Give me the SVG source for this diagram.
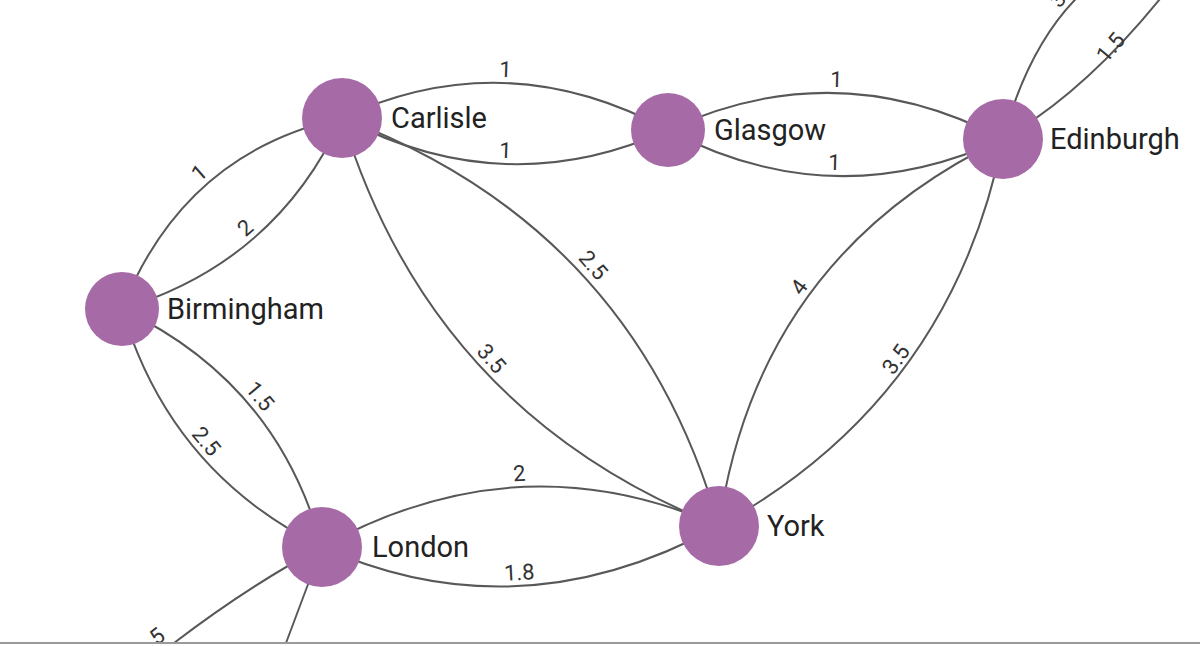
<svg xmlns="http://www.w3.org/2000/svg" width="1200" height="646" viewBox="0 0 1200 646">
<style>
.edge{fill:none;stroke:#585858;stroke-width:2}
.elabel{font-family:Roboto,"Liberation Sans",sans-serif;font-size:22px;fill:#333;text-anchor:middle}
.node{fill:#a66ba6}
.nlabel{font-family:Roboto,"Liberation Sans",sans-serif;font-size:29px;fill:#222}
</style>
<rect width="1200" height="646" fill="#fff"/>
<g id="connectors">
<path class="edge" d="M342,118 Q505,42 668,130"/>
<path class="edge" d="M342,118 Q505,204 668,130"/>
<path class="edge" d="M668,130 Q836.5,51.5 1003,139"/>
<path class="edge" d="M668,130 Q832.5,217.5 1003,139"/>
<path class="edge" d="M122,309 Q184,152.5 342,118"/>
<path class="edge" d="M122,309 Q276,262.5 342,118"/>
<path class="edge" d="M122,309 Q170,472 322,547"/>
<path class="edge" d="M122,309 Q277,382 322,547"/>
<path class="edge" d="M342,118 Q633.5,227 719,526"/>
<path class="edge" d="M342,118 Q432,413 719,526"/>
<path class="edge" d="M322,547 Q519.5,437.5 719,526"/>
<path class="edge" d="M322,547 Q519.5,635.5 719,526"/>
<path class="edge" d="M719,526 Q758,256 1003,139"/>
<path class="edge" d="M719,526 Q951,398.5 1003,139"/>
<path class="edge" d="M1003,139 Q1030,40 1085,-10"/>
<path class="edge" d="M1003,139 Q1090,90 1175,-20"/>
<path class="edge" d="M322,547 Q250,585 174,643"/>
<path class="edge" d="M322,547 Q304,595 286,643"/>
<text class="elabel" transform="translate(505,83) rotate(2.1)" y="-6">1</text>
<text class="elabel" transform="translate(505,164) rotate(2.1)" y="-6">1</text>
<text class="elabel" transform="translate(836,93) rotate(1.5)" y="-6">1</text>
<text class="elabel" transform="translate(834,176) rotate(1.5)" y="-6">1</text>
<text class="elabel" transform="translate(208,183) rotate(-41)" y="-6">1</text>
<text class="elabel" transform="translate(254,238) rotate(-41)" y="-6">2</text>
<text class="elabel" transform="translate(196,450) rotate(50)" y="-6">2.5</text>
<text class="elabel" transform="translate(249.6,404.9) rotate(50)" y="-6">1.5</text>
<text class="elabel" transform="translate(583,274) rotate(49)" y="-6">2.5</text>
<text class="elabel" transform="translate(481.3,367.5) rotate(49)" y="-6">3.5</text>
<text class="elabel" transform="translate(520,487) rotate(-3)" y="-6">2</text>
<text class="elabel" transform="translate(520,586) rotate(-3)" y="-6">1.8</text>
<text class="elabel" transform="translate(810,295) rotate(-53.7)" y="-6">4</text>
<text class="elabel" transform="translate(907,367) rotate(-55)" y="-6">3.5</text>
<text class="elabel" transform="translate(1068,8) rotate(-50)" y="-6">3</text>
<text class="elabel" transform="translate(1121,56) rotate(-50)" y="-6">1.5</text>
<text class="elabel" transform="translate(165.3,647) rotate(-37)" y="-6">5</text>
</g>
<g id="node-carlisle"><circle class="node" cx="342" cy="118" r="40"/><text class="nlabel" x="391" y="128">Carlisle</text></g>
<g id="node-glasgow"><circle class="node" cx="668" cy="130" r="37"/><text class="nlabel" x="714" y="140">Glasgow</text></g>
<g id="node-edinburgh"><circle class="node" cx="1003" cy="139" r="40"/><text class="nlabel" x="1050" y="149">Edinburgh</text></g>
<g id="node-birmingham"><circle class="node" cx="122" cy="309" r="37"/><text class="nlabel" x="167" y="319">Birmingham</text></g>
<g id="node-london"><circle class="node" cx="322" cy="547" r="40"/><text class="nlabel" x="372" y="557">London</text></g>
<g id="node-york"><circle class="node" cx="719" cy="526" r="40"/><text class="nlabel" x="767" y="536">York</text></g>
<rect x="0" y="642" width="1200" height="2" fill="#9a9a9a"/>
</svg>
